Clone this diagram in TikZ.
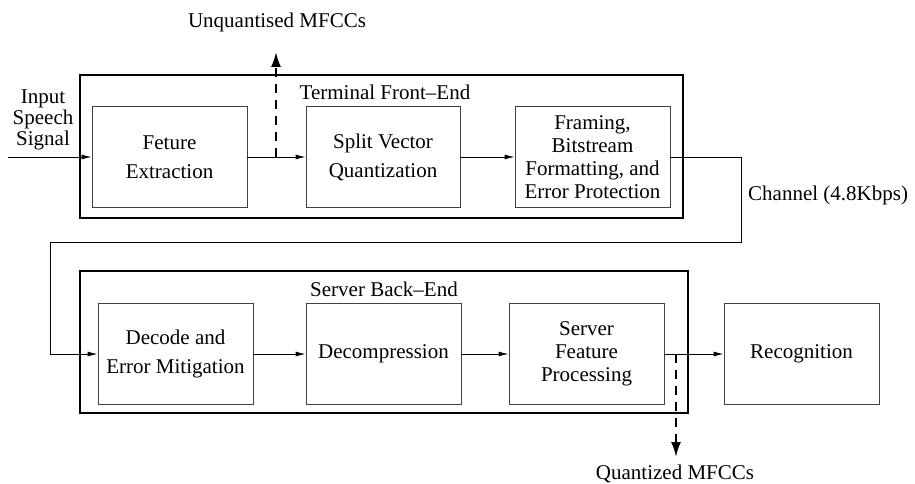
\documentclass[tikz,border=0pt]{standalone}
\usepackage{fontspec}
\setmainfont{Liberation Serif}
\usetikzlibrary{arrows.meta,calc}
\begin{document}
\begin{tikzpicture}[x=1pt,y=-1pt,
  blk/.style={draw=black!75,line width=0.9pt,minimum width=155pt,minimum height=101pt,inner sep=0pt,align=center,font=\fontsize{21}{29}\selectfont},
  outerbox/.style={draw=black,line width=2.2pt,inner sep=0pt},
  lbl/.style={font=\fontsize{21}{23}\selectfont,inner sep=0pt,align=center},
  arr/.style={line width=0.9pt,-{Latex[length=10pt,width=5pt]}},
  darr/.style={line width=2pt,dash pattern=on 9pt off 7pt,-{Latex[length=15pt,width=10pt]}}]
\useasboundingbox (0,0) rectangle (915,484);
% outer boxes
\node[outerbox,minimum width=603pt,minimum height=143pt] (term) at (381.5,146.5) {};
\node[outerbox,minimum width=608pt,minimum height=142pt] (serv) at (384,342) {};
% terminal blocks
\node[blk] (fe) at (169.5,157) {Feture\\Extraction};
\node[blk,minimum width=154pt] (svq) at (383,157) {Split Vector\\Quantization};
\node[blk,font=\fontsize{21}{23}\selectfont] (fbf) at (592.5,157) {Framing,\\Bitstream\\Formatting, and\\Error Protection};
% server blocks
\node[blk] (dem) at (175.5,354) {Decode and\\Error Mitigation};
\node[blk] (dec) at (383.5,354) {Decompression};
\node[blk,font=\fontsize{21}{23}\selectfont] (sfp) at (586.5,354) {Server\\Feature\\Processing};
\node[blk] (rec) at (801.5,354) {Recognition};
% labels
\node[lbl] (tfe) at (385,92) {Terminal Front--End};
\node[lbl] (sbe) at (384,289) {Server Back--End};
\node[lbl,font=\fontsize{21}{21}\selectfont] (inp) at (43,120) {Input\\Speech\\Signal};
\node[lbl,anchor=west] (chn) at (748,195) {Channel (4.8Kbps)};
\node[lbl] (unq) at (277,22) {Unquantised MFCCs};
\node[lbl] (qnt) at (675,474) {Quantized MFCCs};
% coordinates
\coordinate (in) at (8,157);
\coordinate (c1) at (741,157);
\coordinate (c2) at (741,242);
\coordinate (c3) at (50,242);
\coordinate (c4) at (50,354);
\coordinate (up0) at (276,157);
\coordinate (up1) at (276,52);
\coordinate (dn0) at (676,354);
\coordinate (dn1) at (676,457);
% connectors
\draw[arr] (in) -- (fe.west);
\draw[arr] (fe.east) -- (svq.west);
\draw[arr] (svq.east) -- (fbf.west);
\draw[line width=0.9pt] (fbf.east) -- (c1) -- (c2) -- (c3) -- (c4);
\draw[arr] (c4) -- (dem.west);
\draw[arr] (dem.east) -- (dec.west);
\draw[arr] (dec.east) -- (sfp.west);
\draw[arr] (sfp.east) -- (rec.west);
\draw[darr] (up0) -- (up1);
\draw[darr] (dn0) -- (dn1);
\end{tikzpicture}
\end{document}
